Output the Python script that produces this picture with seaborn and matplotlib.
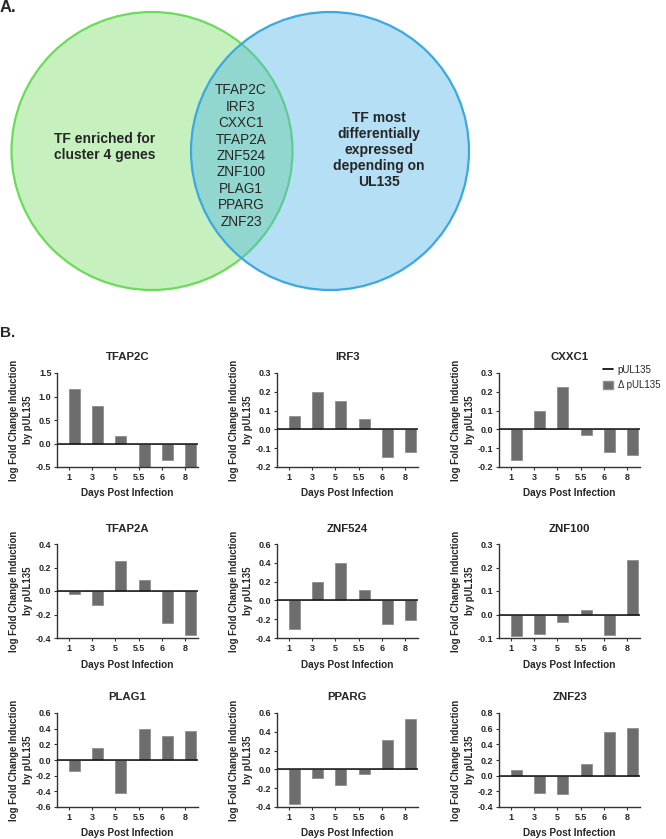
import numpy as np
import pandas as pd
import matplotlib.pyplot as plt
import seaborn as sns
from matplotlib.patches import Ellipse, Patch
from matplotlib.lines import Line2D
from matplotlib.ticker import MultipleLocator, FormatStrFormatter

sns.set_style('ticks')
plt.rcParams['font.family'] = ['Liberation Sans', 'DejaVu Sans']
plt.rcParams['font.weight'] = 'bold'
plt.rcParams['axes.titleweight'] = 'bold'
plt.rcParams['axes.labelweight'] = 'bold'
plt.rcParams['axes.unicode_minus'] = False

# data
genes = ['TFAP2C', 'IRF3', 'CXXC1', 'TFAP2A', 'ZNF524', 'ZNF100', 'PLAG1', 'PPARG', 'ZNF23']
days = ['1', '3', '5', '5.5', '6', '8']
series = ['pUL135', 'Δ pUL135']
pul135 = [0, 0, 0, 0, 0, 0]  # reference, log FC = 0

tfap2c = [1.17, 0.80, 0.16, -0.50, -0.36, -0.50]
irf3 = [0.07, 0.20, 0.15, 0.057, -0.146, -0.118]
cxxc1 = [-0.163, 0.10, 0.227, -0.03, -0.12, -0.136]
tfap2a = [-0.026, -0.117, 0.254, 0.094, -0.27, -0.377]
znf524 = [-0.30, 0.20, 0.393, 0.114, -0.254, -0.204]
znf100 = [-0.091, -0.083, -0.033, 0.019, -0.089, 0.231]
plag1 = [-0.143, 0.157, -0.417, 0.40, 0.304, 0.374]
pparg = [-0.368, -0.095, -0.168, -0.049, 0.312, 0.533]
znf23 = [0.072, -0.221, -0.234, 0.145, 0.557, 0.613]
values = [tfap2c, irf3, cxxc1, tfap2a, znf524, znf100, plag1, pparg, znf23]

# axis ranges (lo, hi, step)
yranges = [(-0.5, 1.5, 0.5), (-0.2, 0.3, 0.1), (-0.2, 0.3, 0.1),
           (-0.4, 0.4, 0.2), (-0.4, 0.6, 0.2), (-0.1, 0.3, 0.1),
           (-0.6, 0.6, 0.2), (-0.4, 0.6, 0.2), (-0.4, 0.8, 0.2)]

left_set = 'TF enriched for\ncluster 4 genes'
right_set = 'TF most\ndifferentially\nexpressed\ndepending on\nUL135'

W, H = 666, 839
fig = plt.figure(figsize=(W / 100, H / 100), dpi=100)

# --- A. Venn diagram
av = fig.add_axes([0, 1 - 300 / H, 1, 300 / H])
av.set_xlim(0, W)
av.set_ylim(300, 0)
av.axis('off')
av.add_patch(Ellipse((152, 151), 281, 278, facecolor='#c6f1be', edgecolor='#6bdb5a', lw=1.6))
av.add_patch(Ellipse((330, 151), 278, 278, facecolor='#4cb5e7', alpha=0.42, edgecolor='none'))
av.add_patch(Ellipse((330, 151), 278, 278, facecolor='none', edgecolor='#3ba8e2', lw=1.6))
av.text(105, 147, left_set, ha='center', va='center', fontsize=10, linespacing=1.2)
av.text(379, 150, right_set, ha='center', va='center', fontsize=10, linespacing=1.2)
av.text(241, 156, '\n'.join(genes), ha='center', va='center', fontsize=9.8,
        fontweight='normal', linespacing=1.22)
fig.text(0.0, 1 - 0.5 / H, 'A.', fontsize=12, va='top', ha='left')
fig.text(0.0, 1 - 333 / H, 'B.', fontsize=11, va='center', ha='left')

# --- B. bar panels
col_left = [57, 277, 499]
row_top = [373, 544, 713]
aw, ah = 141, 94

axes = []
for i, gene in enumerate(genes):
    r, c = divmod(i, 3)
    ax = fig.add_axes([col_left[c] / W, 1 - (row_top[r] + ah) / H, aw / W, ah / H])
    df = pd.DataFrame({'day': days * 2,
                       'series': [series[0]] * len(days) + [series[1]] * len(days),
                       'value': pul135 + values[i]})
    sns.barplot(data=df, x='day', y='value', hue='series', order=days, hue_order=series,
                palette=['black', '#6d6d6d'], width=0.94, edgecolor='#8f8f8f',
                linewidth=0.6, errorbar=None, legend=False, ax=ax)
    ax.axhline(0, color='#111111', lw=1.1, zorder=5)
    lo, hi, step = yranges[i]
    ax.set_ylim(lo, hi)
    ax.set_xlim(-0.5, 5.55)
    ax.yaxis.set_major_locator(MultipleLocator(step))
    ax.yaxis.set_major_formatter(FormatStrFormatter('%.1f'))
    sns.despine(ax=ax)
    for s in ['left', 'bottom']:
        ax.spines[s].set_linewidth(1.0)
        ax.spines[s].set_color('#333333')
    ax.tick_params(labelsize=6.5, length=2.5, width=0.8, pad=1.5, color='#333333')
    ax.set_title(gene, fontsize=8.2, pad=9)
    ax.set_xlabel('Days Post Infection', fontsize=7.2, labelpad=5)
    ax.set_ylabel('log Fold Change Induction\nby pUL135', fontsize=6.9, labelpad=2,
                  linespacing=1.5)
    axes.append(ax)

handles = [Line2D([0], [0], color='black', lw=1.2),
           Patch(facecolor='#6d6d6d', edgecolor='#8f8f8f')]
axes[2].legend(handles=handles, labels=series, loc='upper left',
               bbox_to_anchor=(603 / W, 1 - 365 / H), bbox_transform=fig.transFigure,
               frameon=False, prop={'size': 7, 'weight': 'normal'}, handlelength=1.0,
               handleheight=1.0, handletextpad=0.5, labelspacing=0.55,
               borderpad=0, borderaxespad=0)

fig.savefig('out.png', dpi=100)
